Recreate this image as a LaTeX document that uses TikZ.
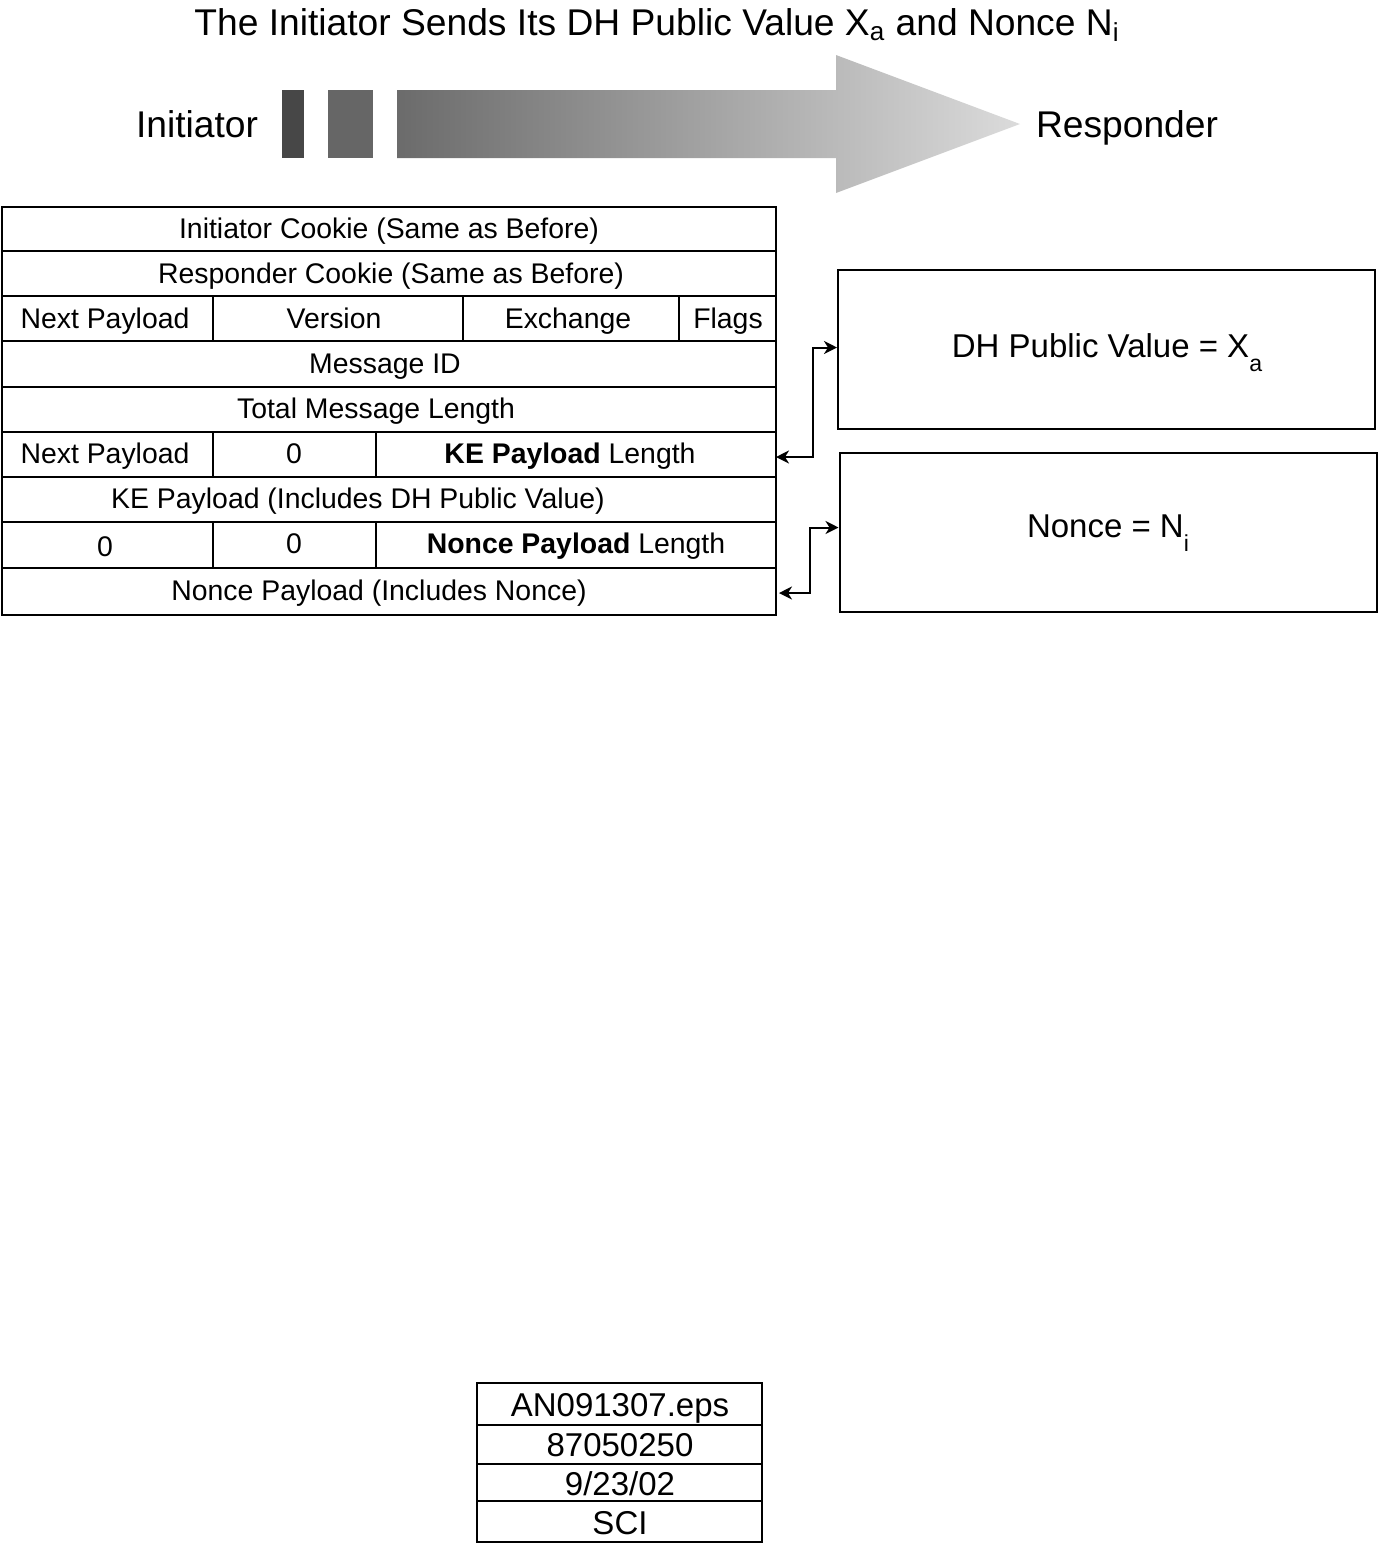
\documentclass[tikz,border=0pt]{standalone}
\usepackage{fontspec}
\setmainfont{Liberation Sans}
\usetikzlibrary{arrows.meta}

\newcommand{\dnsub}[1]{\raisebox{-0.45em}{\scalebox{0.7}{#1}}}

\begin{document}
\begin{tikzpicture}[x=0.5pt, y=-0.5pt,
    cell/.style={font=\fontsize{14.2}{17}\selectfont, inner sep=0pt, anchor=base},
    side/.style={font=\fontsize{18.6}{22}\selectfont, inner sep=0pt, anchor=base},
    stamp/.style={font=\fontsize{16.5}{20}\selectfont, inner sep=0pt, anchor=base},
    valbox/.style={draw, line width=1pt, minimum width=268.5pt, minimum height=79.5pt},
    valtext/.style={font=\fontsize{16.5}{20}\selectfont, inner sep=0pt, anchor=base},
    conn/.style={{Stealth[length=6.5pt,width=6.5pt,inset=2pt]}-{Stealth[length=6.5pt,width=6.5pt,inset=2pt]},
        line width=1pt}]
        \useasboundingbox (0,0) rectangle (1378,1544);

        % title and the two ends
        \node[side] (title) at (657,35) {The Initiator Sends Its DH Public Value X\textsubscript{a} and Nonce N\textsubscript{i}};
        \node[side] (initiator) at (197,137) {Initiator};
        \node[side] (responder) at (1127,137) {Responder};

        % the big arrow
        \fill[black!72] (282,90) rectangle (304,158);
        \fill[black!60] (328,90) rectangle (373,158);
        \shade[left color=black!58, right color=black!14]
            (397,90) -- (836,90) -- (836,55) -- (1020,124) -- (836,193) -- (836,158) -- (397,158) -- cycle;

        % header table
        \draw[line width=1pt] (2,207) rectangle (776,615);
        \foreach \y in {251,296,341,387,432,477,522,568}
            \draw[line width=1pt] (2,\y) -- (776,\y);
        \foreach \x in {213,463,679}
            \draw[line width=1pt] (\x,296) -- (\x,341);
        \foreach \x in {213,376} {
            \draw[line width=1pt] (\x,432) -- (\x,477);
            \draw[line width=1pt] (\x,522) -- (\x,568);
        }

        \node[cell] (icookie) at (389,238) {Initiator Cookie (Same as Before)};
        \node[cell] (rcookie) at (391,283) {Responder Cookie (Same as Before)};
        \node[cell] (nextp) at (105,328) {Next Payload};
        \node[cell] (version) at (334,328) {Version};
        \node[cell] (exchange) at (568,328) {Exchange};
        \node[cell] (flags) at (728,328) {Flags};
        \node[cell] (msgid) at (385,373) {Message ID};
        \node[cell] (totlen) at (376,418) {Total Message Length};
        \node[cell] (kenext) at (105,463) {Next Payload};
        \node[cell] (kezero) at (294,463) {0};
        \node[cell] (kelen) at (570,463) {\textbf{KE Payload} Length};
        \node[cell] (kepay) at (358,508) {KE Payload (Includes DH Public Value)};
        \node[cell] (nzeroa) at (105,556) {0};
        \node[cell] (nzerob) at (294,553) {0};
        \node[cell] (nlen) at (576,553) {\textbf{Nonce Payload} Length};
        \node[cell] (npay) at (379,600) {Nonce Payload (Includes Nonce)};

        \coordinate (keend) at (776,457);
        \coordinate (nonceend) at (779,593);

        % payload values
        \node[valbox] (dhbox) at (1106.5,349.5) {};
        \node[valbox] (noncebox) at (1108,532.5) {};
        \node[valtext] (dhtext) at (1107,357) {DH Public Value = X\dnsub{a}};
        \node[valtext] (noncetext) at (1108,537) {Nonce = N\dnsub{i}};

        \draw[conn] (keend) -- ++(37,0) |- ([yshift=1pt]dhbox.west);
        \draw[conn] (nonceend) -- ++(31,0) |- ([yshift=2.5pt]noncebox.west);

        % file stamp
        \draw[line width=1pt] (477,1383) rectangle (762,1542);
        \foreach \y in {1425,1464,1501}
            \draw[line width=1pt] (477,\y) -- (762,\y);
        \node[stamp] (fname) at (620,1416) {AN091307.eps};
        \node[stamp] (fnum) at (620,1456) {87050250};
        \node[stamp] (fdate) at (620,1495) {9/23/02};
        \node[stamp] (fsci) at (620,1534) {SCI};
    \end{tikzpicture}
\end{document}
